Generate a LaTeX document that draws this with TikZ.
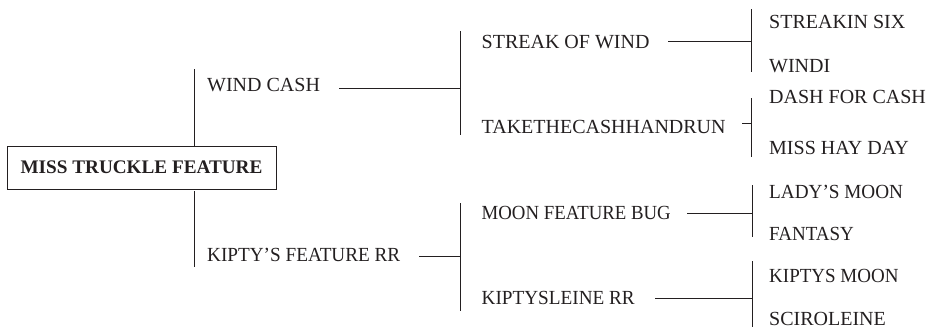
\documentclass[tikz,border=0pt]{standalone}
\usepackage{fontspec}
\usepackage{graphicx}
\setmainfont{Liberation Serif}
\definecolor{ink}{RGB}{35,31,32}
\newcommand{\sqzx}[2]{\scalebox{#1}[1]{#2}}
\begin{document}
\begin{tikzpicture}[x=1pt,y=-1pt,
  every node/.style={text=ink},
  lbl/.style={anchor=west, inner sep=0pt, text height=13.2pt, text depth=0pt, font=\fontsize{20}{22}\selectfont},
  rootbox/.style={draw=ink, line width=0.9pt, inner sep=0pt, minimum width=269pt, minimum height=43pt, font=\fontsize{19.2}{22}\selectfont\bfseries},
  ln/.style={draw=ink, line width=0.9pt}]
\useasboundingbox (0,0) rectangle (930,327);

% nodes
\node[rootbox] (root) at (141.5,167.5) {MISS TRUCKLE FEATURE};
\node[lbl] (wc) at (207,84.5) {WIND CASH};
\node[lbl] (kf) at (207,255) {\sqzx{0.96}{KIPTY’S FEATURE RR}};
\node[lbl] (sw) at (481.5,41.5) {STREAK OF WIND};
\node[lbl] (tc) at (481.5,126.5) {TAKETHECASHHANDRUN};
\node[lbl] (mf) at (481.5,212.5) {\sqzx{0.94}{MOON FEATURE BUG}};
\node[lbl] (kr) at (481.5,297.5) {\sqzx{0.96}{KIPTYSLEINE RR}};
\node[lbl] (ss) at (769,21.5) {STREAKIN SIX};
\node[lbl] (wi) at (769,66) {WINDI};
\node[lbl] (dc) at (769,97) {DASH FOR CASH};
\node[lbl] (mh) at (769,147.5) {MISS HAY DAY};
\node[lbl] (lm) at (769,191.5) {\sqzx{0.96}{LADY’S MOON}};
\node[lbl] (fa) at (769,233.5) {\sqzx{0.95}{FANTASY}};
\node[lbl] (km) at (769,276) {\sqzx{0.95}{KIPTYS MOON}};
\node[lbl] (sc) at (769,318.6) {SCIROLEINE};

% bracket coordinates
\coordinate (b1t) at (194,69);
\coordinate (b1b) at (194,267);
\coordinate (b2at) at (460,31);   \coordinate (b2ab) at (460,135);
\coordinate (b2bt) at (460,203);  \coordinate (b2bb) at (460,311);
\coordinate (b3at) at (751,9);    \coordinate (b3ab) at (751,72);
\coordinate (b3bt) at (751,98);   \coordinate (b3bb) at (751,157);
\coordinate (b3ct) at (752,185);  \coordinate (b3cb) at (752,237);
\coordinate (b3dt) at (752,261);  \coordinate (b3db) at (752,327);
% horizontal starts
\coordinate (hwc) at (339,88);
\coordinate (hkf) at (419,256);
\coordinate (hsw) at (668,41);
\coordinate (htc) at (742,123);
\coordinate (hmf) at (687,213);
\coordinate (hkr) at (655,298);

% generation 1
\draw[ln] (b1t) -- (b1t |- root.north);
\draw[ln] ([yshift=-2pt]b1b |- root.south) -- (b1b);
% generation 2
\draw[ln] (hwc) -- (hwc -| b2at);
\draw[ln] (b2at) -- (b2ab);
\draw[ln] (hkf) -- (hkf -| b2bt);
\draw[ln] (b2bt) -- (b2bb);
% generation 3
\draw[ln] (hsw) -- (hsw -| b3at);
\draw[ln] (b3at) -- (b3ab);
\draw[ln] (htc) -- (htc -| b3bt);
\draw[ln] (b3bt) -- (b3bb);
\draw[ln] (hmf) -- (hmf -| b3ct);
\draw[ln] (b3ct) -- (b3cb);
\draw[ln] (hkr) -- (hkr -| b3dt);
\draw[ln] (b3dt) -- (b3db);
\end{tikzpicture}
\end{document}
